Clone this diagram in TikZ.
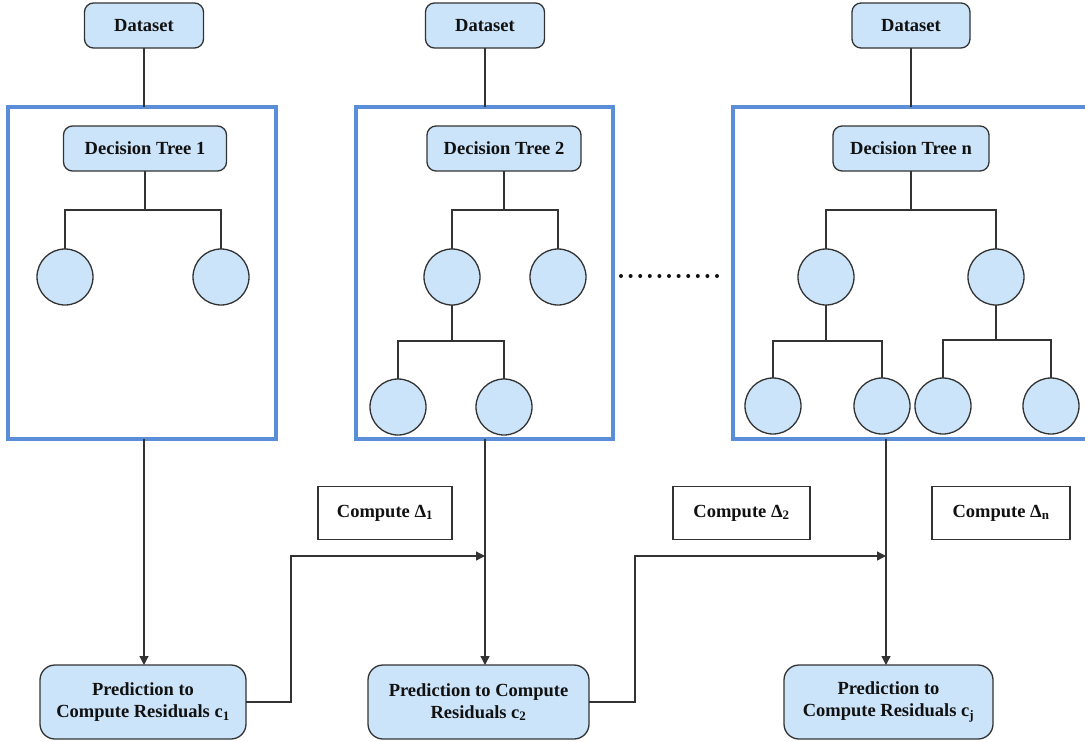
\documentclass[tikz,border=0pt]{standalone}
\usepackage{fontspec}
\setmainfont{Liberation Serif}
\usetikzlibrary{arrows.meta}
\definecolor{boxfill}{HTML}{CCE4FA}
\definecolor{boxline}{HTML}{333333}
\definecolor{framecol}{HTML}{5B8ED8}
\definecolor{inkcol}{HTML}{111111}
\begin{document}
\begin{tikzpicture}[x=1pt,y=-1pt,
  every node/.style={font=\fontsize{18.5}{22}\selectfont\bfseries, text=inkcol, inner sep=0pt, outer sep=0pt},
  bluebox/.style={draw=boxline, line width=1.3pt, fill=boxfill, rounded corners=9pt, align=center},
  predbox/.style={bluebox, rounded corners=15pt},
  leaf/.style={circle, draw=boxline, line width=1.3pt, fill=boxfill, minimum size=56pt},
  treeframe/.style={draw=framecol, line width=3.3pt, rectangle},
  deltabox/.style={draw=boxline, line width=1.3pt, fill=white, rectangle},
  link/.style={draw=boxline, line width=1.3pt},
  arr/.style={link, -{Triangle[length=9pt,width=9pt]}}
]
\useasboundingbox (0,0) rectangle (1085,742);
\clip (0,0) rectangle (1085,742);
\fill[white] (0,0) rectangle (1085,742);

% data sources
\node[bluebox, minimum width=119pt, minimum height=45pt] (ds1) at (144,25.5) {Dataset};
\node[bluebox, minimum width=119pt, minimum height=45pt] (ds2) at (485,25.5) {Dataset};
\node[bluebox, minimum width=118pt, minimum height=45pt] (ds3) at (911,25.5) {Dataset};

% frames around each tree
\node[treeframe, minimum width=268pt, minimum height=332pt] (fr1) at (142,273) {};
\node[treeframe, minimum width=257pt, minimum height=332pt] (fr2) at (484.5,273) {};
\node[treeframe, minimum width=360pt, minimum height=332pt] (fr3) at (913,273) {};

\draw[link] (ds1.south) -- (ds1.south |- fr1.north);
\draw[link] (ds2.south) -- (ds2.south |- fr2.north);
\draw[link] (ds3.south) -- (ds3.south |- fr3.north);

% tree 1
\node[bluebox, minimum width=163pt, minimum height=45pt] (dt1) at (145,148.5) {Decision Tree 1};
\node[leaf] (l11) at (65,277) {};
\node[leaf] (l12) at (221,277) {};
\draw[link] (dt1.south) -- (dt1.south |- 0,210);
\draw[link] (l11.north) |- (dt1.south |- 0,210) -| (l12.north);

% tree 2
\node[bluebox, minimum width=154pt, minimum height=45pt] (dt2) at (504,148.5) {Decision Tree 2};
\node[leaf] (l21) at (452,277) {};
\node[leaf] (l22) at (558,277) {};
\node[leaf] (l23) at (398,407) {};
\node[leaf] (l24) at (504,407) {};
\draw[link] (dt2.south) -- (dt2.south |- 0,210);
\draw[link] (l21.north) |- (dt2.south |- 0,210) -| (l22.north);
\draw[link] (l21.south) -- (l21.south |- 0,341);
\draw[link] (l23.north) |- (l21.south |- 0,341) -| (l24.north);

% tree n
\node[bluebox, minimum width=156pt, minimum height=45pt] (dt3) at (911,148.5) {Decision Tree n};
\node[leaf] (l31) at (826,277) {};
\node[leaf] (l32) at (996,277) {};
\node[leaf] (l33) at (773,406) {};
\node[leaf] (l34) at (882,406) {};
\node[leaf] (l35) at (943,406) {};
\node[leaf] (l36) at (1051,406) {};
\draw[link] (dt3.south) -- (dt3.south |- 0,210);
\draw[link] (l31.north) |- (dt3.south |- 0,210) -| (l32.north);
\draw[link] (l31.south) -- (l31.south |- 0,341);
\draw[link] (l33.north) |- (l31.south |- 0,341) -| (l34.north);
\draw[link] (l32.south) -- (l32.south |- 0,340);
\draw[link] (l35.north) |- (l32.south |- 0,340) -| (l36.north);

% ellipsis between trees
\foreach \i in {0,...,10}
  \fill[inkcol] (621+9.6*\i,276) circle (2pt);

% residual prediction boxes
\node[predbox, minimum width=206pt, minimum height=74pt] (p1) at (143,702) {Prediction to\\Compute Residuals c\textsubscript{1}};
\node[predbox, minimum width=221pt, minimum height=74pt] (p2) at (478.5,702) {Prediction to Compute\\Residuals c\textsubscript{2}};
\node[predbox, minimum width=209pt, minimum height=74pt] (p3) at (888.5,702) {Prediction to\\Compute Residuals c\textsubscript{j}};

% delta labels
\node[deltabox, minimum width=134pt, minimum height=53pt] (c1) at (385,513) {Compute Δ\textsubscript{1}};
\node[deltabox, minimum width=137pt, minimum height=53pt] (c2) at (741.5,513) {Compute Δ\textsubscript{2}};
\node[deltabox, minimum width=138pt, minimum height=53pt] (c3) at (1001,513) {Compute Δ\textsubscript{n}};

% flow from frames to predictions
\coordinate (x1) at (144,439);
\coordinate (x2) at (485,439);
\coordinate (x3) at (886,439);
\draw[arr] (x1) -- (x1 |- p1.north);
\draw[arr] (x2) -- (x2 |- p2.north);
\draw[arr] (x3) -- (x3 |- p3.north);

% residuals passed on to the next stage
\coordinate (m1) at (291,556);
\coordinate (m2) at (635,556);
\draw[arr] (p1.east) -| (m1) -- (m1 -| x2);
\draw[arr] (p2.east) -| (m2) -- (m2 -| x3);
\end{tikzpicture}
\end{document}
